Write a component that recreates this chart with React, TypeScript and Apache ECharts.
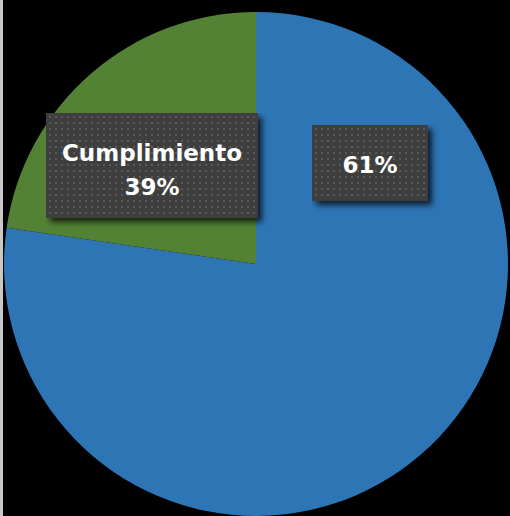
import React, { useEffect, useRef } from "react";
import * as echarts from "echarts";

// Slice sizes as drawn in the picture, and the percentages printed on the labels
const categories = ["Pendiente", "Cumplimiento"];
const sliceValues = [77.3, 22.7];
const labelPercents = [61, 39];
const showName = [false, true];
const colors = ["#2E75B6", "#548235"];

const EXTRA = 12; // room for the box shadow inside the background image

function dottedWithShadow(w: number, h: number): string {
  const c = document.createElement("canvas");
  c.width = w + EXTRA;
  c.height = h + EXTRA;
  const ctx = c.getContext("2d");
  if (!ctx) return "";
  ctx.save();
  ctx.shadowColor = "rgba(0,0,0,0.75)";
  ctx.shadowBlur = 6;
  ctx.shadowOffsetX = 4;
  ctx.shadowOffsetY = 4;
  ctx.fillStyle = "#3e3e3e";
  ctx.fillRect(0, 0, w, h);
  ctx.restore();
  ctx.fillStyle = "#5a5a5a";
  for (let y = 3; y < h - 1; y += 6) {
    for (let x = 3; x < w - 1; x += 6) {
      ctx.fillRect(x, y, 2, 2);
    }
  }
  return c.toDataURL();
}

export default function App() {
  const ref = useRef<HTMLDivElement>(null);
  useEffect(() => {
    if (!ref.current) return;
    const chart = echarts.init(ref.current, undefined, { renderer: "svg" });
    const boxes = [
      { w: 116, h: 76, cx: 370, cy: 163, shift: 2 },
      { w: 212, h: 105, cx: 152, cy: 165.5, shift: 4 },
    ];
    const data = categories.map((name, i) => {
      const b = boxes[i];
      const lines = showName[i] ? 2 : 1;
      const lh = 34;
      const padV = (b.h - lines * lh) / 2;
      return {
        name,
        value: sliceValues[i],
        itemStyle: { color: colors[i] },
        label: {
          formatter: showName[i]
            ? `${name}\n${labelPercents[i]}%`
            : `${labelPercents[i]}%`,
          width: b.w - 20,
          padding: [padV + b.shift, 10 + EXTRA, padV - b.shift + EXTRA, 10],
          lineHeight: lh,
          backgroundColor: { image: dottedWithShadow(b.w, b.h) },
        },
      };
    });
    chart.setOption({
      animation: false,
      backgroundColor: "#000000",
      graphic: [
        {
          type: "rect",
          left: 0,
          top: 0,
          shape: { x: 0, y: 0, width: 3, height: 516 },
          style: { fill: "#c8c8c8" },
        },
      ],
      series: [
        {
          type: "pie",
          center: [256, 264],
          radius: [0, 252],
          startAngle: 90,
          clockwise: true,
          silent: true,
          label: {
            show: true,
            position: "inside",
            color: "#ffffff",
            fontFamily: "'DejaVu Sans', sans-serif",
            fontWeight: "bold",
            fontSize: 23,
            align: "center",
          },
          labelLine: { show: false },
          labelLayout: (p: any) => {
            const b = boxes[p.dataIndex];
            return {
              x: b.cx + EXTRA / 2,
              y: b.cy - b.h / 2,
              align: "center",
              verticalAlign: "top",
            };
          },
          data,
        },
      ],
    });
    return () => chart.dispose();
  }, []);
  return (
    <div
      ref={ref}
      style={{ position: "fixed", left: 0, top: 0, width: 510, height: 516 }}
    />
  );
}
